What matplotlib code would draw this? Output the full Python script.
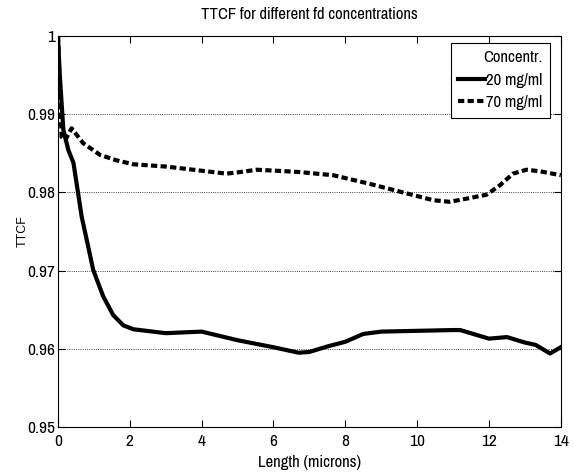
import matplotlib
matplotlib.use("Agg")
import matplotlib.pyplot as plt

plt.rcParams['font.family'] = ['Archivo Narrow', 'DejaVu Sans']

# 20 mg/ml (solid)
x_20 = [0.0, 0.05, 0.15, 0.29, 0.43, 0.66, 0.84, 0.98, 1.26, 1.54, 1.82, 2.1, 3.0, 4.0,
        5.0, 6.0, 6.7, 7.0, 7.5, 8.0, 8.5, 9.0, 10.0, 11.0, 11.2, 12.0, 12.5, 13.0, 13.3,
        13.7, 14.0]
y_20 = [1.0, 0.995, 0.988, 0.9854, 0.9838, 0.9769, 0.9731, 0.9701, 0.9667, 0.9643, 0.9630,
        0.9625, 0.9620, 0.9622, 0.9611, 0.9602, 0.9595, 0.9596, 0.9603, 0.9609, 0.9619,
        0.9622, 0.9623, 0.9624, 0.9624, 0.9613, 0.9615, 0.9608, 0.9605, 0.9594, 0.9602]

# 70 mg/ml (dashed)
x_70 = [0.0, 0.1, 0.2, 0.38, 0.7, 1.17, 1.63, 2.1, 3.02, 3.95, 4.69, 5.07, 5.53, 6.37,
        6.73, 7.66, 8.59, 9.52, 10.45, 10.91, 11.37, 11.93, 12.3, 12.67, 13.04, 13.42, 14.0]
y_70 = [1.0, 0.9871, 0.9867, 0.9882, 0.9863, 0.9848, 0.9841, 0.9836, 0.9833, 0.9828,
        0.9824, 0.9826, 0.9829, 0.9827, 0.9826, 0.9822, 0.9812, 0.9801, 0.9790, 0.9788,
        0.9792, 0.9797, 0.9809, 0.9824, 0.9829, 0.9827, 0.9822]

labels = ["20 mg/ml", "70 mg/ml"]

fig = plt.figure(figsize=(5.74, 4.72), dpi=100)
ax = fig.add_axes([0.101, 0.0953, 0.876, 0.8284])

ax.plot(x_20, y_20, color='black', lw=3, ls='-', label=labels[0])
ax.plot(x_70, y_70, color='black', lw=3, ls=(0, (1.5, 0.8)), label=labels[1])

ax.set_xlim(0, 14)
ax.set_ylim(0.95, 1.0)
ax.set_xticks(range(0, 15, 2))
ax.set_yticks([0.95, 0.96, 0.97, 0.98, 0.99, 1.0])
ax.set_yticklabels(["0.95", "0.96", "0.97", "0.98", "0.99", "1"])
ax.tick_params(direction='in', top=True, right=True, length=5, labelsize=12.5)
ax.tick_params(axis='x', pad=5)
ax.tick_params(axis='y', pad=2)
ax.grid(axis='y', linestyle=':', color='black', linewidth=0.6)
for s in ax.spines.values():
    s.set_linewidth(0.8)

ax.set_title('TTCF for different fd concentrations', fontsize=12, pad=12)
ax.set_xlabel('Length (microns)', fontsize=12, labelpad=4)
ax.set_ylabel('TTCF', fontsize=9, family=['Liberation Sans', 'DejaVu Sans'])
ax.yaxis.set_label_coords(-0.058, 0.5)

leg = ax.legend(title='Concentr.', loc='upper right', fontsize=12, title_fontsize=12,
                fancybox=False, framealpha=1, edgecolor='black', handlelength=1.6,
                handletextpad=0.05, borderpad=0.45, labelspacing=0.45, borderaxespad=0,
                bbox_to_anchor=(0.978, 0.983))
leg._legend_box.align = 'right'
leg.get_frame().set_linewidth(0.8)

fig.savefig('out.png', dpi=100)
